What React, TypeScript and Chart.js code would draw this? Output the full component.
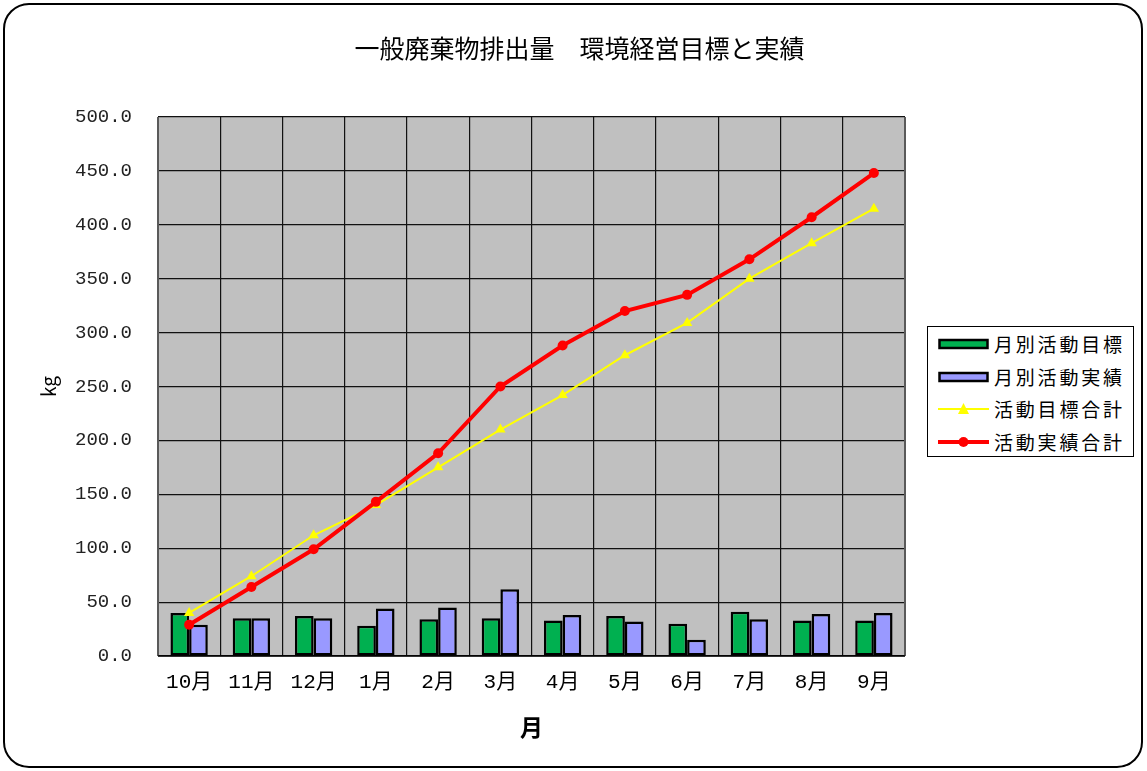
import React, { useEffect, useRef } from "react";
import { Chart, registerables } from "chart.js";

Chart.register(...registerables);

const titleText = "一般廃棄物排出量　環境経営目標と実績";
const months = ["10月", "11月", "12月", "1月", "2月", "3月", "4月", "5月", "6月", "7月", "8月", "9月"];
const monthlyTarget = [40, 35, 37, 28, 34, 35, 33, 37, 30, 41, 33, 33];
const monthlyActual = [29, 35, 35, 44, 45, 62, 38, 32, 15, 34, 39, 40];
const cumulativeTarget = [40, 74, 112, 140, 175, 210, 242, 279, 309, 350, 383, 415];
const cumulativeActual = [29, 64, 99, 143, 188, 250, 288, 320, 335, 368, 407, 448];
const seriesNames = ["月別活動目標", "月別活動実績", "活動目標合計", "活動実績合計"];
const yMin = 0;
const yMax = 500;
const yStep = 50;

const GREEN = "#00B050";
const PURPLE = "#9999FF";
const YELLOW = "#FFFF00";
const RED = "#FF0000";
const CJK = "'Noto Sans CJK JP', 'Noto Sans', sans-serif";
const MONO = "'Liberation Mono', 'Noto Sans CJK JP', monospace";

const plotBg = {
  id: "plotBg",
  beforeDraw(chart: any) {
    const { ctx, chartArea: a } = chart;
    ctx.save();
    ctx.fillStyle = "#C0C0C0";
    ctx.fillRect(a.left, a.top, a.right - a.left, a.bottom - a.top);
    ctx.restore();
  },
  beforeDatasetsDraw(chart: any) {
    const { ctx, chartArea: a } = chart;
    ctx.save();
    ctx.strokeStyle = "#5a5a5a";
    ctx.lineWidth = 2;
    ctx.beginPath();
    ctx.moveTo(a.left, a.bottom);
    ctx.lineTo(a.left, a.top);
    ctx.moveTo(a.right, a.top);
    ctx.lineTo(a.right, a.bottom);
    ctx.stroke();
    ctx.strokeStyle = "#000";
    ctx.lineWidth = 1.5;
    ctx.beginPath();
    ctx.moveTo(a.left, a.bottom);
    ctx.lineTo(a.right, a.bottom);
    ctx.stroke();
    ctx.restore();
  },
};

function LegendSwatch({ kind }: { kind: number }) {
  if (kind === 0 || kind === 1) {
    return (
      <svg width={52} height={14} style={{ display: "block" }}>
        <rect x={1.5} y={3} width={48} height={8} fill={kind === 0 ? GREEN : PURPLE} stroke="#000" strokeWidth={2.5} />
      </svg>
    );
  }
  if (kind === 2) {
    return (
      <svg width={52} height={14} style={{ display: "block" }}>
        <line x1={0} y1={7} x2={51} y2={7} stroke={YELLOW} strokeWidth={2} />
        <polygon points="25.5,1 31,12 20,12" fill={YELLOW} />
      </svg>
    );
  }
  return (
    <svg width={52} height={14} style={{ display: "block" }}>
      <line x1={0} y1={7} x2={51} y2={7} stroke={RED} strokeWidth={4} />
      <circle cx={25.5} cy={7} r={5} fill={RED} />
    </svg>
  );
}

export default function App() {
  const ref = useRef<HTMLCanvasElement>(null);

  useEffect(() => {
    if (!ref.current) return;
    const chart = new Chart(ref.current, {
      type: "bar",
      data: {
        labels: months,
        datasets: [
          {
            type: "line",
            label: seriesNames[3],
            data: cumulativeActual,
            borderColor: RED,
            backgroundColor: RED,
            borderWidth: 4,
            pointStyle: "circle",
            pointRadius: 5,
            pointBorderWidth: 0,
            order: 0,
          } as any,
          {
            type: "line",
            label: seriesNames[2],
            data: cumulativeTarget,
            borderColor: YELLOW,
            backgroundColor: YELLOW,
            borderWidth: 2,
            pointStyle: "triangle",
            pointRadius: 6,
            pointBorderWidth: 0,
            order: 1,
          } as any,
          {
            type: "bar",
            label: seriesNames[0],
            data: monthlyTarget,
            backgroundColor: GREEN,
            borderColor: "#000",
            borderWidth: 2.5,
            borderSkipped: false,
            order: 2,
          } as any,
          {
            type: "bar",
            label: seriesNames[1],
            data: monthlyActual,
            backgroundColor: PURPLE,
            borderColor: "#000",
            borderWidth: 2.5,
            borderSkipped: false,
            order: 3,
          } as any,
        ],
      },
      options: {
        animation: false,
        responsive: false,
        maintainAspectRatio: false,
        datasets: {
          bar: { categoryPercentage: 0.6, barPercentage: 1.0 },
        } as any,
        layout: { padding: { left: 12, right: 0, top: 0, bottom: 20 } },
        plugins: {
          legend: { display: false },
          tooltip: { enabled: false },
          title: {
            display: true,
            text: titleText,
            color: "#000",
            font: { family: CJK, size: 25, weight: "normal" },
            padding: { top: 33, bottom: 54 },
          },
        },
        scales: {
          x: {
            grid: { display: true, offset: true, color: "#111", lineWidth: 1.2, drawTicks: false },
            border: { display: false },
            ticks: {
              color: "#000",
              font: { family: MONO, size: 21 },
              padding: 14,
              maxRotation: 0,
              autoSkip: false,
            },
            title: {
              display: true,
              text: "月",
              color: "#000",
              font: { family: CJK, size: 23, weight: "bold" },
              padding: { top: 0, bottom: 10 },
            },
            afterFit(scale: any) {
              scale.height = 95;
            },
          },
          y: {
            min: yMin,
            max: yMax,
            grid: { color: "#111", lineWidth: 1.2, drawTicks: false },
            border: { display: false },
            ticks: {
              stepSize: yStep,
              color: "#222",
              font: { family: MONO, size: 19 },
              padding: 26,
              callback: (v: any) => Number(v).toFixed(1),
            },
            title: {
              display: true,
              text: "kg",
              color: "#000",
              font: { family: CJK, size: 19 },
              padding: { top: 25, bottom: 0 },
            },
            afterFit(scale: any) {
              scale.width = 146;
            },
          },
          y2: {
            position: "right",
            display: true,
            grid: { display: false, drawTicks: false },
            border: { display: false },
            ticks: { display: false },
            afterFit(scale: any) {
              scale.width = 242;
            },
          },
        },
      },
      plugins: [plotBg],
    } as any);
    return () => chart.destroy();
  }, []);

  const legendRows = [0, 1, 2, 3];

  return (
    <div style={{ position: "absolute", left: 0, top: 0, width: 1147, height: 771, background: "#fff" }}>
      <canvas ref={ref} width={1147} height={771} style={{ position: "absolute", left: 0, top: 0 }} />
      <div
        style={{
          position: "absolute",
          left: 3,
          top: 3,
          width: 1140,
          height: 765,
          boxSizing: "border-box",
          border: "2px solid #000",
          borderRadius: 26,
          pointerEvents: "none",
        }}
      />
      <div
        style={{
          position: "absolute",
          left: 927,
          top: 326,
          width: 207,
          height: 131,
          boxSizing: "border-box",
          border: "1px solid #000",
          background: "#fff",
          paddingTop: 1,
        }}
      >
        {legendRows.map((i) => (
          <div
            key={i}
            style={{
              display: "flex",
              alignItems: "center",
              height: 32.5,
              marginLeft: 10,
            }}
          >
            <LegendSwatch kind={i} />
            <span
              style={{
                marginLeft: 4,
                fontFamily: CJK,
                fontSize: 19,
                letterSpacing: 2.8,
                lineHeight: "22px",
                color: "#000",
                whiteSpace: "nowrap",
              }}
            >
              {seriesNames[i]}
            </span>
          </div>
        ))}
      </div>
    </div>
  );
}
